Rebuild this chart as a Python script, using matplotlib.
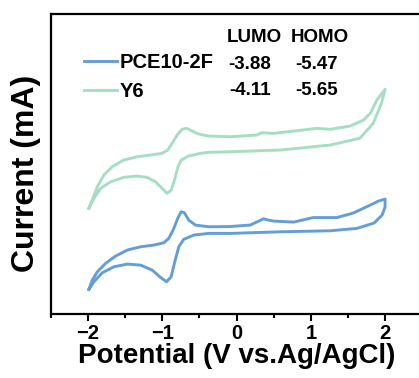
import matplotlib
matplotlib.use("Agg")
import matplotlib.pyplot as plt
from matplotlib.ticker import MultipleLocator

plt.rcParams['font.family'] = ['Liberation Sans', 'DejaVu Sans']
plt.rcParams['font.weight'] = 'bold'

# CV loops, potential (V vs Ag/AgCl) and current (arbitrary offset units)
pce_v = [-1.99, -1.944, -1.876, -1.765, -1.63, -1.473, -1.294, -1.116, -0.981,
         -0.914, -0.855, -0.793, -0.747, -0.703, -0.645, -0.555, -0.376, -0.10,
         0.18, 0.30, 0.36, 0.43, 0.50, 0.77, 1.03, 1.35, 1.57, 1.80, 1.91, 2.00,
         2.00, 1.96, 1.85, 1.62, 1.26, 0.60, -0.08, -0.376, -0.578, -0.713,
         -0.779, -0.833, -0.882, -0.944, -1.035, -1.137, -1.294, -1.473, -1.653,
         -1.81, -1.922, -1.99]
pce_i = [0.247, 0.34, 0.423, 0.507, 0.58, 0.64, 0.673, 0.69, 0.713,
         0.757, 0.84, 0.957, 1.023, 1.013, 0.94, 0.89, 0.873, 0.875,
         0.89, 0.93, 0.953, 0.94, 0.93, 0.92, 0.965, 0.965, 1.01, 1.09, 1.13, 1.15,
         1.073, 0.99, 0.91, 0.857, 0.833, 0.823, 0.807, 0.807, 0.79, 0.747,
         0.673, 0.523, 0.373, 0.323, 0.373, 0.44, 0.49, 0.50, 0.473,
         0.413, 0.323, 0.247]

y6_v = [-1.99, -1.944, -1.876, -1.788, -1.675, -1.519, -1.339, -1.16, -1.003,
        -0.927, -0.868, -0.801, -0.734, -0.676, -0.599, -0.511, -0.376, -0.08,
        0.27, 0.34, 0.50, 0.81, 1.08, 1.26, 1.53, 1.71, 1.80, 1.89, 2.00,
        1.95, 1.84, 1.66, 1.26, 0.59, -0.08, -0.376, -0.487, -0.647, -0.746,
        -0.79, -0.83, -0.88, -0.935, -1.003, -1.093, -1.205, -1.339, -1.519,
        -1.697, -1.832, -1.921, -1.99]
y6_i = [1.057, 1.14, 1.273, 1.39, 1.473, 1.54, 1.573, 1.59, 1.607,
        1.64, 1.707, 1.79, 1.847, 1.857, 1.83, 1.80, 1.78, 1.773,
        1.79, 1.813, 1.807, 1.833, 1.857, 1.847, 1.88, 1.94, 2.007, 2.14, 2.247,
        2.107, 1.907, 1.757, 1.69, 1.64, 1.623, 1.617, 1.607, 1.58, 1.54,
        1.473, 1.357, 1.24, 1.207, 1.257, 1.323, 1.367, 1.38, 1.367,
        1.323, 1.257, 1.157, 1.057]

labels = ['PCE10-2F', 'Y6']
lumo = ['-3.88', '-4.11']
homo = ['-5.47', '-5.65']
colors = ['#649ed8', '#a6dec4']

fig = plt.figure(figsize=(4.19, 3.78), dpi=100)
ax = fig.add_axes([0.1217, 0.169, 0.886, 0.794])

ax.plot(pce_v, pce_i, color=colors[0], lw=2.1, label=labels[0],
        solid_joinstyle='round')
ax.plot(y6_v, y6_i, color=colors[1], lw=2.1, label=labels[1],
        solid_joinstyle='round')

ax.set_xlim(-2.5, 2.5)
ax.set_ylim(0, 3)
ax.xaxis.set_major_locator(MultipleLocator(1))
ax.xaxis.set_minor_locator(MultipleLocator(0.5))
ax.set_yticks([])
ax.tick_params(axis='x', which='major', length=5, width=1.5, labelsize=14.5, pad=2)
ax.tick_params(axis='x', which='minor', length=3, width=1.5)
for s in ax.spines.values():
    s.set_linewidth(1.6)

ax.set_xlabel('Potential (V vs.Ag/AgCl)', fontsize=20, fontweight='bold', labelpad=0)
ax.set_ylabel('Current (mA)', fontsize=23, fontweight='bold')
ax.yaxis.set_label_coords(-0.026, 0.47)

ax.legend(loc='upper left', bbox_to_anchor=(0.09, 0.87), frameon=False,
          borderaxespad=0, borderpad=0, handlelength=1.6, handletextpad=0.15,
          labelspacing=0.5, prop={'size': 14.5, 'weight': 'bold'})

ax.text(0.549, 0.923, 'LUMO', transform=ax.transAxes, ha='center', va='center',
        fontsize=13.5, fontweight='bold')
ax.text(0.725, 0.923, 'HOMO', transform=ax.transAxes, ha='center', va='center',
        fontsize=13.5, fontweight='bold')
for k in range(2):
    fy = 0.832 - 0.087 * k
    ax.text(0.535, fy, lumo[k], transform=ax.transAxes, ha='center',
            va='center', fontsize=13.5, fontweight='bold')
    ax.text(0.716, fy, homo[k], transform=ax.transAxes, ha='center',
            va='center', fontsize=13.5, fontweight='bold')

fig.savefig('out.png', dpi=100)
